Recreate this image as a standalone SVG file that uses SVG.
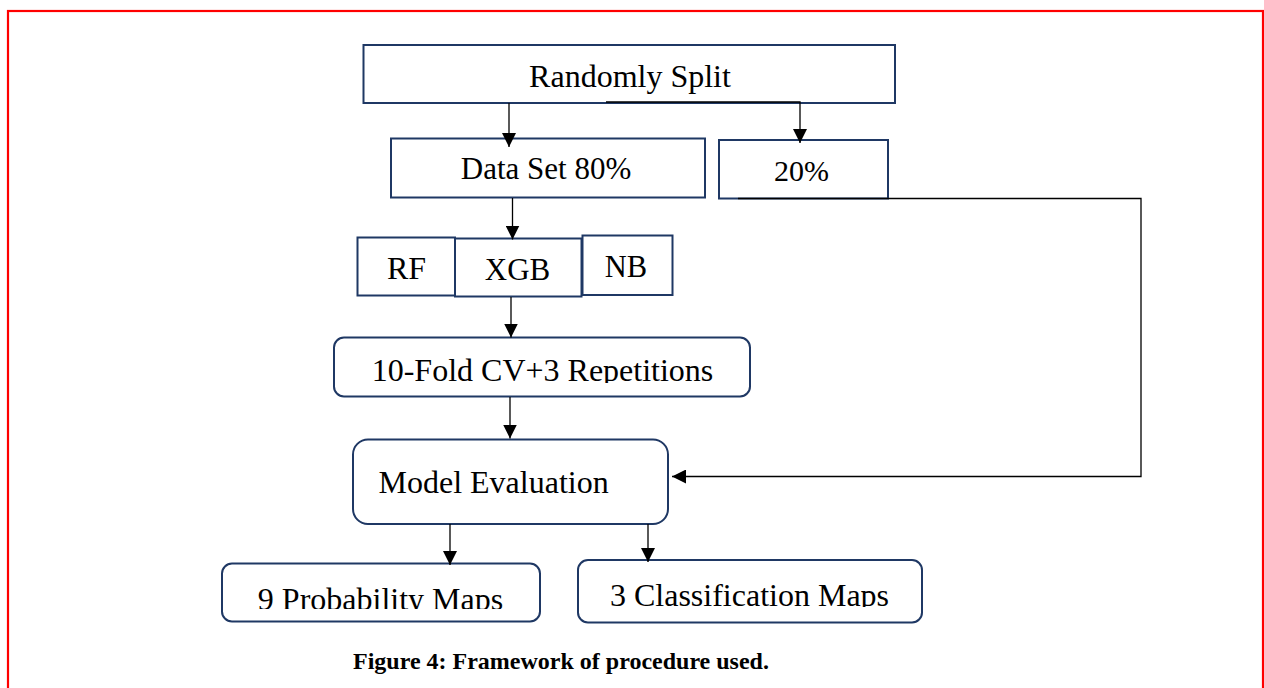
<svg xmlns="http://www.w3.org/2000/svg" width="1264" height="688" viewBox="0 0 1264 688">
<style>
.box{fill:#ffffff;stroke:#1f3864;stroke-width:2}
.t{font-family:"Liberation Serif","Times New Roman",serif;font-size:32px;fill:#000;text-anchor:middle}
.cap{font-family:"Liberation Serif","Times New Roman",serif;font-size:24px;font-weight:bold;fill:#000}
.con{fill:none;stroke:#000;stroke-width:1.3}
</style>
<defs>
<marker id="ah" viewBox="0 0 14 14" refX="14" refY="7" markerWidth="14" markerHeight="14" markerUnits="userSpaceOnUse" orient="auto">
<path d="M0,0 L14,7 L0,14 z" fill="#000"/>
</marker>
<clipPath id="c10"><rect x="334" y="337" width="416" height="46"/></clipPath>
<clipPath id="c9"><rect x="222" y="563" width="318" height="46"/></clipPath>
<clipPath id="c3"><rect x="578" y="560" width="344" height="47"/></clipPath>
</defs>
<rect width="1264" height="688" fill="#ffffff"/>
<rect x="8" y="11" width="1255" height="700" fill="none" stroke="#ff0000" stroke-width="2.2"/>

<g id="n-split"><rect class="box" x="363.5" y="45" width="531.5" height="58"/><text class="t" x="630" y="87">Randomly Split</text></g>
<g id="n-data80"><rect class="box" x="391" y="138.5" width="314" height="59"/><text class="t" x="546" y="179" style="font-size:31px">Data Set 80%</text></g>
<g id="n-20"><rect class="box" x="719" y="140" width="169" height="58.5"/><text class="t" x="801.5" y="180.5" style="font-size:30px">20%</text></g>
<g id="n-rf"><rect class="box" x="357.5" y="237.5" width="97.5" height="58"/><text class="t" x="406.5" y="278.5">RF</text></g>
<g id="n-xgb"><rect class="box" x="455" y="238.5" width="126.5" height="58"/><text class="t" x="517.5" y="279.5" style="font-size:31px">XGB</text></g>
<g id="n-nb"><rect class="box" x="582.5" y="235.5" width="90" height="59.5"/><text class="t" x="626" y="277" style="font-size:30.5px">NB</text></g>
<g id="n-cv"><rect class="box" x="334" y="337.5" width="416" height="59" rx="10"/><text class="t" x="542.5" y="381" clip-path="url(#c10)">10-Fold CV+3 Repetitions</text></g>
<g id="n-eval"><rect class="box" x="353" y="439.5" width="315" height="84.5" rx="15"/><text class="t" x="378.5" y="492.5" style="text-anchor:start">Model Evaluation</text></g>
<g id="n-prob"><rect class="box" x="222" y="563.5" width="318" height="58" rx="10"/><text class="t" x="380.5" y="609.5" clip-path="url(#c9)">9 Probability Maps</text></g>
<g id="n-class"><rect class="box" x="578" y="560" width="344" height="62.5" rx="10"/><text class="t" x="749.5" y="606" clip-path="url(#c3)">3 Classification Maps</text></g>

<g id="connectors">
<path class="con" d="M509,103 V147" marker-end="url(#ah)"/>
<path class="con" d="M606,102 H800 V143" marker-end="url(#ah)"/>
<path class="con" d="M512.5,198 V239.5" marker-end="url(#ah)"/>
<path class="con" d="M511,297 V337.5" marker-end="url(#ah)"/>
<path class="con" d="M510,397 V438.5" marker-end="url(#ah)"/>
<path class="con" d="M738,198.5 H1141 V476.5 H672" marker-end="url(#ah)"/>
<path class="con" d="M450,524 V565" marker-end="url(#ah)"/>
<path class="con" d="M648,524 V562" marker-end="url(#ah)"/>
</g>

<text id="caption" class="cap" x="353" y="668.5">Figure 4: Framework of procedure used.</text>
</svg>
